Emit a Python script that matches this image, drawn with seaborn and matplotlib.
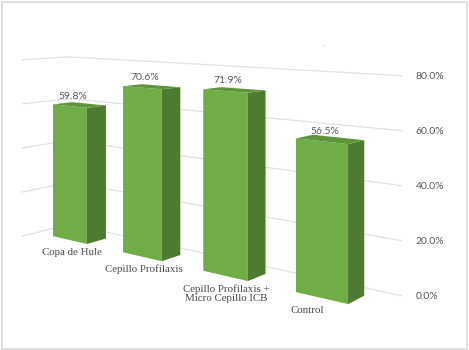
import numpy as np
import pandas as pd
import matplotlib
matplotlib.use("Agg")
import matplotlib.pyplot as plt
import seaborn as sns
from matplotlib.transforms import Transform
from matplotlib.patches import Polygon, Rectangle

# data
categories = ["Copa de Hule", "Cepillo Profilaxis",
              "Cepillo Profilaxis +\nMicro Cepillo ICB", "Control"]
values = [59.8, 70.6, 71.9, 56.5]
value_labels = ["59.8%", "70.6%", "71.9%", "56.5%"]
ticks = [0, 20, 40, 60, 80]
tick_labels = ["0.0%", "20.0%", "40.0%", "60.0%", "80.0%"]

FRONT = "#70ad47"
SIDE = "#4d7c30"
TOP = "#5f953a"
GRID = "#e2e2e2"
TXT = "#595959"

# perspective camera (x = category, v = value, z = depth), output in pixels
A, B, C, D, E, F = 63.27, 69.67, -0.0643, 0.17, -2.24, 240.0
GX, GY, GW = 21.2, 0.13, 0.023
BAR_DEPTH = 1.0
WALL_Z = 1.7
FLOOR_FRONT = -0.74


def project(x, v, z):
    w = 1 + C * x + GW * z
    return (A * x + B + GX * z) / w, (D * x + E * v + F + GY * z) / w


class Proj(Transform):
    input_dims = 2
    output_dims = 2

    def __init__(self, plane, level):
        super().__init__()
        self.plane = plane
        self.level = level

    def transform_non_affine(self, vals):
        vals = np.asarray(vals, dtype=float).reshape(-1, 2)
        if self.plane == "xv":
            x, v = vals[:, 0], vals[:, 1]
            z = np.full_like(x, self.level)
        else:
            z, v = vals[:, 0], vals[:, 1]
            x = np.full_like(z, self.level)
        X, Y = project(x, v, z)
        return np.column_stack([X, Y])


sns.set_theme(style="white")
fig = plt.figure(figsize=(4.69, 3.5), dpi=100)
ax = fig.add_axes([0, 0, 1, 1])

df = pd.DataFrame({"grupo": categories, "valor": values})
sns.barplot(data=df, x="grupo", y="valor", width=0.5, color=FRONT,
            saturation=1, errorbar=None, linewidth=0, zorder=3, ax=ax)

n = len(categories)
lo, hi = -0.5, n - 0.5

# walls: back wall and left wall gridlines
for v in ticks:
    ax.plot([lo, hi], [v, v], transform=Proj("xv", WALL_Z) + ax.transData,
            color=GRID, lw=0.9, zorder=1)
    ax.plot([FLOOR_FRONT, WALL_Z], [v, v], transform=Proj("zv", lo) + ax.transData,
            color=GRID, lw=0.9, zorder=1)

# bars: front from seaborn, sides and tops from the same rectangles
label_dx = [2, 2, 1, -14]
for i, p in enumerate(list(ax.patches)):
    x0, w, h = p.get_x(), p.get_width(), p.get_height()
    p.set_transform(Proj("xv", 0) + ax.transData)
    xr = x0 + w
    side = [project(xr, 0, 0), project(xr, h, 0),
            project(xr, h, BAR_DEPTH), project(xr, 0, BAR_DEPTH)]
    top = [project(x0, h, 0), project(xr, h, 0),
           project(xr, h, BAR_DEPTH), project(x0, h, BAR_DEPTH)]
    ax.add_patch(Polygon(side, closed=True, facecolor=SIDE, edgecolor="none", zorder=3))
    ax.add_patch(Polygon(top, closed=True, facecolor=TOP, edgecolor="none", zorder=3))

    cx = x0 + w / 2
    tx, ty = project(cx, h, 0)
    ax.text(tx + 3, ty - 10, value_labels[i], ha="center", va="center",
            fontsize=7.5, family="Lato", color=TXT, zorder=5)
    bx, by = project(cx, 0, 0)
    ax.text(bx + label_dx[i], by + 8, categories[i], ha="center", va="top",
            fontsize=7.8, family="Liberation Serif", color="#4a4a4a",
            linespacing=1.05, zorder=5)

# value axis labels at the right end of the back wall
for v, lab in zip(ticks, tick_labels):
    gx, gy = project(hi, v, WALL_Z)
    ax.text(gx + 14, gy + 1, lab, ha="left", va="center", fontsize=7.5,
            family="Lato", color=TXT)

ax.text(323, 44, ".", ha="center", va="center", fontsize=6, color="#9a9a9a")

ax.set_xlim(0, 469)
ax.set_ylim(350, 0)
ax.set_axis_off()

fig.patches.append(Rectangle((0.004, 0.004), 0.992, 0.99, transform=fig.transFigure,
                             fill=False, edgecolor="#d9d9d9", lw=1.2))
fig.savefig("out.png", dpi=100)
